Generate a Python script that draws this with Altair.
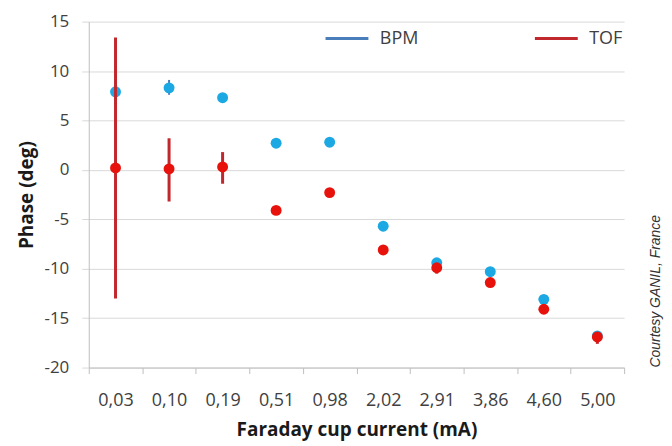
import altair as alt
import pandas as pd

currents = ["0,03", "0,10", "0,19", "0,51", "0,98", "2,02", "2,91", "3,86", "4,60", "5,00"]

bpm_phase = [7.9, 8.3, 7.3, 2.7, 2.8, -5.7, -9.4, -10.3, -13.1, -16.8]
bpm_low = [6.6, 7.6, 7.0, 2.4, 2.5, -6.0, -9.7, -10.6, -13.4, -17.1]
bpm_high = [9.3, 9.1, 7.6, 3.0, 3.1, -5.4, -9.1, -10.0, -12.8, -16.5]

tof_phase = [0.2, 0.1, 0.3, -4.1, -2.3, -8.1, -9.9, -11.4, -14.1, -16.9]
tof_low = [-13.0, -3.2, -1.4, -4.4, -2.6, -8.4, -10.5, -11.7, -14.4, -17.6]
tof_high = [13.4, 3.2, 1.8, -3.8, -2.0, -7.8, -9.5, -11.1, -13.8, -16.4]

y_ticks = [-20, -15, -10, -5, 0, 5, 10, 15]

rows = []
for i, c in enumerate(currents):
    rows.append({"current": c, "series": "BPM", "phase": bpm_phase[i], "low": bpm_low[i], "high": bpm_high[i]})
for i, c in enumerate(currents):
    rows.append({"current": c, "series": "TOF", "phase": tof_phase[i], "low": tof_low[i], "high": tof_high[i]})
df = pd.DataFrame(rows)

FONT = "Open Sans"
W, H = 537, 347

x_enc = alt.X(
    "current:N",
    sort=currents,
    scale=alt.Scale(type="band", paddingInner=0, paddingOuter=0),
    axis=alt.Axis(
        title="Faraday cup current (mA)",
        labelAngle=0,
        tickBand="extent",
        grid=False,
        domainColor="#bfbfbf",
        tickColor="#bfbfbf",
        tickSize=6,
        labelPadding=18,
        labelFontSize=18,
        labelColor="#404040",
        labelFont=FONT,
        titleFont=FONT,
        titleFontSize=19,
        titleFontWeight="bold",
        titleColor="#1a1a1a",
        titlePadding=11,
    ),
)

y_scale = alt.Scale(domain=[-20, 15], nice=False, zero=False)
y_axis = alt.Axis(
    title="Phase (deg)",
    values=y_ticks,
    labelExpr="toString(datum.value)",
    grid=True,
    gridColor="#d9d9d9",
    domainColor="#bfbfbf",
    tickColor="#d9d9d9",
    tickSize=7,
    labelPadding=13,
    labelFontSize=17,
    labelColor="#404040",
    labelFont=FONT,
    titleFont=FONT,
    titleFontSize=19,
    titleFontWeight="bold",
    titleColor="#1a1a1a",
    titlePadding=8,
)

color_scale = alt.Scale(domain=["BPM", "TOF"], range=["#4a7ebb", "#c0282d"])
legend = alt.Legend(
    title=None,
    orient="none",
    legendX=236,
    legendY=-6,
    direction="horizontal",
    columns=2,
    columnPadding=110,
    symbolType="stroke",
    symbolSize=1849,
    symbolStrokeWidth=3,
    labelOffset=10,
    labelFontSize=18,
    labelFont=FONT,
    labelColor="#404040",
    padding=0,
)


def rules(series, width):
    return alt.Chart(df).transform_filter(alt.datum.series == series).mark_rule(strokeWidth=width).encode(
        x=x_enc,
        y=alt.Y("low:Q", scale=y_scale, axis=y_axis),
        y2="high:Q",
        color=alt.Color("series:N", scale=color_scale, legend=legend),
    )


def points(series, col):
    return alt.Chart(df).transform_filter(alt.datum.series == series).mark_point(
        filled=True, size=120, opacity=1, shape="circle"
    ).encode(
        x=x_enc,
        y=alt.Y("phase:Q", scale=y_scale, axis=y_axis),
        color=alt.value(col),
    )


credit = alt.Chart(pd.DataFrame({"t": ["Courtesy GANIL, France"]})).mark_text(
    angle=270, align="left", baseline="middle", font="Liberation Sans",
    fontStyle="italic", fontSize=14, color="#333333"
).encode(
    text="t:N",
    x=alt.value(W + 32),
    y=alt.value(H),
)

chart = alt.layer(
    rules("BPM", 2),
    points("BPM", "#1ca8e2"),
    rules("TOF", 3),
    points("TOF", "#e8120c"),
    credit,
).properties(
    width=W,
    height=H,
    autosize=alt.AutoSizeParams(type="none"),
    padding={"left": 81, "top": 13, "right": 40, "bottom": 78},
).configure_view(stroke=None)

chart.save("out.html", embed_options={"renderer": "svg", "actions": False})
